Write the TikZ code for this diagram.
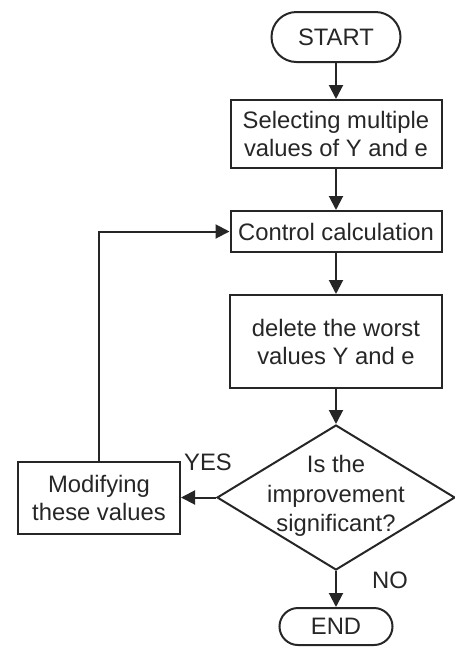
\documentclass[tikz,border=0pt]{standalone}
\usepackage{fontspec}
\setmainfont{Liberation Sans}
\usetikzlibrary{shapes.geometric,arrows.meta}
\begin{document}
\begin{tikzpicture}[x=0.5pt,y=-0.5pt,
  font=\fontsize{11.9}{14}\selectfont,
  every node/.style={text=black!85},
  procbox/.style={draw=black!85,line width=1pt,inner sep=0pt,align=center},
  termbox/.style={procbox,rounded corners=#1},
  decision/.style={draw=black!85,line width=1pt,shape=diamond,inner sep=0pt},
  flow/.style={draw=black!85,line width=1pt,-{Triangle[width=7pt,length=7pt]}},
  plain/.style={draw=black!85,line width=1pt}]
\useasboundingbox (0,0) rectangle (455,655);

\node[termbox=12.5pt,minimum width=64.5pt,minimum height=25pt] (start) at (336,37) {START};
\node[procbox,minimum width=105.5pt,minimum height=34pt] (sel) at (336,134) {Selecting multiple\\values of Y and e};
\node[procbox,minimum width=105.5pt,minimum height=20.5pt] (ctrl) at (336,231.5) {Control calculation};
\node[procbox,minimum width=106pt,minimum height=46.5pt] (del) at (336,341.5) {delete the worst\\values Y and e};
% the label is smashed so the diamond keeps its own size
\node[decision,minimum width=119pt,minimum height=72.5pt] (dec) at (336,497.5)
  {\smash{\makebox[0pt]{\raisebox{-2.5pt}{\renewcommand{\arraystretch}{1.05}\begin{tabular}{@{}c@{}}Is the\\improvement\\significant?\end{tabular}}}}};
\node[termbox=9.25pt,minimum width=56.5pt,minimum height=18.5pt] (end) at (336,626.5) {END};
\node[procbox,minimum width=81pt,minimum height=36pt] (mod) at (99,498) {Modifying\\these values};

\node (yes) at (208,462) {YES};
\node (no) at (390,580) {NO};

\draw[flow] (start) -- (sel);
\draw[flow] (sel) -- (ctrl);
\draw[flow] (ctrl) -- (del);
\draw[flow] (del) -- (dec);
\draw[flow] (dec) -- (end);
\draw[flow] (dec.west) -- (mod.east |- dec.west);
\draw[flow] (mod.north) |- (ctrl.west);
\end{tikzpicture}
\end{document}
